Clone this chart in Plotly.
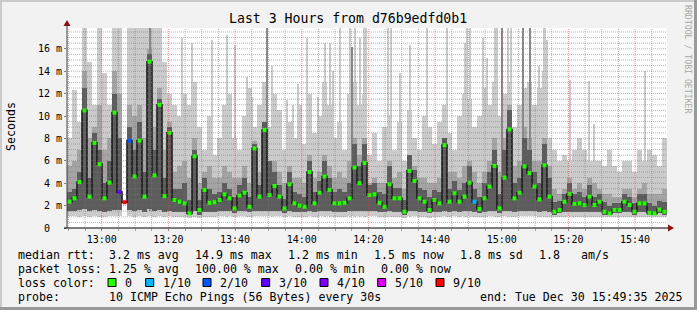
import numpy as np
import pandas as pd
import plotly.graph_objects as go

# ---------------- data ----------------
start_time = "2025-12-30 12:50:20"
n_steps = 120
step = "90s"
x_range = ["2025-12-30 12:49:35", "2025-12-30 15:49:35"]
day = "2025-12-30 "

median_ms = [
    2.35, 2.65, 4.1, 10.5, 2.8, 7.6, 5.7, 2.65, 4.05, 10.3,
    3.2, 2.3, 7.8, 4.6, 7.8, 2.8, 14.85, 4.7, 11.0, 2.85,
    8.5, 2.5, 2.35, 2.2, 1.3, 6.4, 1.6, 3.4, 2.25, 2.3,
    2.5, 3.0, 2.65, 1.75, 2.9, 3.15, 1.9, 7.1, 2.8, 8.75,
    2.95, 3.75, 2.8, 1.75, 3.9, 2.2, 2.0, 1.9, 5.0, 2.2,
    3.15, 4.6, 3.4, 2.2, 2.2, 2.25, 2.65, 5.4, 4.0, 5.8,
    2.95, 3.0, 2.25, 1.9, 3.9, 2.65, 2.65, 1.45, 5.1, 4.2,
    2.65, 2.35, 1.6, 2.5, 2.2, 7.4, 2.35, 3.1, 2.35, 2.8,
    4.05, 2.35, 1.7, 2.65, 3.7, 5.55, 1.75, 4.5, 8.8, 2.65,
    3.15, 5.5, 4.9, 3.7, 2.55, 5.6, 2.8, 1.45, 1.6, 2.35,
    3.05, 2.15, 2.2, 2.05, 2.8, 2.05, 2.35, 1.45, 1.3, 1.6,
    1.6, 2.35, 2.05, 1.45, 2.2, 2.2, 1.35, 1.3, 1.65, 1.45,
]
loss_tenths = [0] * 10 + [3, 9, 2] + [0] * 68 + [1] + [0] * 38

smoke_hi = [
    8.0, 12.3, 9.5, 17.9, 14.8, 11.0, 17.9, 13.8, 11.0, 17.9,
    17.9, None, 17.9, 17.9, 17.9, 17.9, 17.9, 17.9, 17.9, 14.8,
    12.0, 11.0, 10.0, 12.0, 11.0, 13.0, 9.0, 7.0, 10.0, 6.5,
    8.0, 11.0, 12.0, 8.0, 7.0, 10.0, 12.5, 9.0, 11.0, 13.0,
    9.0, 12.0, 10.5, 7.0, 9.5, 8.0, 11.0, 7.5, 12.0, 8.5,
    10.0, 13.0, 11.0, 8.0, 9.5, 7.0, 12.0, 13.0, 11.0, 12.0,
    6.5, 8.5, 6.0, 9.0, 10.0, 7.0, 9.5, 6.0, 10.5, 8.0,
    7.0, 10.0, 9.0, 7.5, 9.5, 11.0, 8.5, 7.0, 10.0, 12.0,
    11.5, 9.0, 10.0, 12.5, 11.0, 13.0, 10.0, 12.0, 13.0, 9.0,
    11.0, 12.5, 13.0, 11.0, 12.5, 14.0, 8.0, 7.0, 6.0, 6.5,
    6.0, 7.0, 8.0, 7.0, 6.0, 6.0, 6.0, 5.5, 7.0, 5.5,
    5.0, 6.0, 6.0, 5.0, 7.0, 6.0, 7.0, 6.5, 5.5, 8.0,
]
smoke_mid = [
    5.5, 6.0, 7.0, 14.0, 8.0, 9.0, 11.0, 7.0, 8.0, 14.0,
    12.0, None, 11.0, 10.0, 11.0, 8.0, 16.0, 9.0, 12.5, 7.0,
    9.5, 5.0, 5.5, 6.0, 4.5, 8.0, 4.0, 5.0, 5.5, 4.5,
    4.5, 5.5, 5.0, 4.5, 4.5, 5.5, 4.0, 7.8, 5.0, 9.5,
    6.0, 6.0, 5.0, 4.0, 5.5, 4.5, 4.5, 4.0, 6.5, 4.5,
    5.0, 6.5, 5.5, 4.5, 5.0, 4.5, 6.0, 8.0, 6.5, 8.0,
    4.0, 4.5, 4.0, 4.0, 6.0, 4.5, 5.0, 3.5, 6.5, 5.5,
    4.5, 4.5, 4.0, 4.0, 4.5, 8.0, 5.0, 5.0, 4.5, 5.5,
    6.0, 5.0, 4.0, 5.0, 6.0, 8.0, 5.0, 8.0, 11.0, 5.5,
    6.0, 9.0, 8.0, 6.0, 6.0, 8.0, 5.5, 3.5, 3.0, 3.5,
    4.5, 3.5, 4.0, 3.5, 4.5, 4.0, 3.5, 3.0, 3.0, 2.8,
    2.8, 3.5, 3.5, 2.8, 3.5, 4.0, 3.0, 3.0, 3.0, 3.5,
]
smoke_dark = [
    3.2, 3.5, 5.0, 12.5, 4.5, 8.5, 7.0, 4.0, 6.0, 12.0,
    8.0, None, 9.0, 7.0, 9.5, 5.0, 15.5, 7.0, 11.5, 4.5,
    9.0, 3.5, 3.5, 4.0, 2.5, 7.0, 2.5, 4.5, 3.5, 3.0,
    3.2, 4.0, 3.5, 2.8, 3.8, 4.5, 2.8, 7.5, 3.8, 9.5,
    6.0, 5.0, 3.8, 2.6, 5.0, 3.2, 3.0, 2.8, 6.0, 3.2,
    4.2, 6.0, 4.5, 3.2, 3.5, 3.2, 4.0, 7.5, 5.5, 7.5,
    3.8, 4.0, 3.2, 3.0, 5.5, 3.6, 3.6, 2.5, 6.5, 5.2,
    3.6, 3.4, 2.8, 3.4, 3.2, 8.0, 3.5, 4.2, 3.4, 4.0,
    5.5, 3.5, 2.8, 4.0, 5.0, 7.0, 3.0, 7.0, 10.5, 4.0,
    4.5, 8.0, 7.0, 5.0, 4.0, 7.5, 4.5, 2.3, 2.4, 3.0,
    4.0, 3.0, 3.2, 2.8, 3.8, 2.8, 3.0, 2.3, 2.0, 2.2,
    2.2, 3.0, 2.8, 2.2, 3.0, 3.0, 2.2, 2.0, 2.4, 2.3,
]
smoke_lo = [
    1.1, 1.1, 1.0, 1.1, 1.0, 1.1, 1.0, 1.0, 1.1, 1.1,
    1.1, None, 1.1, 1.0, 1.1, 1.0, 1.1, 1.0, 1.1, 1.0,
    1.1, 1.0, 1.0, 1.0, 0.9, 1.0, 0.9, 1.0, 1.0, 1.0,
    1.1, 1.1, 1.1, 1.0, 1.1, 1.1, 1.0, 1.1, 1.1, 1.1,
    1.1, 1.1, 1.1, 1.0, 1.1, 1.0, 1.0, 1.0, 1.1, 1.0,
    1.1, 1.1, 1.1, 1.0, 1.0, 1.0, 1.1, 1.1, 1.1, 1.1,
    1.1, 1.1, 1.0, 1.0, 1.1, 1.0, 1.0, 0.9, 1.1, 1.1,
    1.0, 1.0, 0.9, 1.0, 1.0, 1.1, 1.0, 1.1, 1.0, 1.1,
    1.1, 1.0, 1.0, 1.0, 1.1, 1.1, 1.0, 1.1, 1.1, 1.0,
    1.1, 1.1, 1.1, 1.1, 1.0, 1.1, 1.0, 1.0, 1.0, 1.0,
    1.1, 1.0, 1.0, 1.0, 1.0, 1.0, 1.0, 1.0, 1.0, 1.0,
    1.0, 1.0, 1.0, 1.0, 1.0, 1.0, 1.0, 1.0, 1.0, 1.0,
]
smoke_lo2 = [
    1.5, 1.5, 1.6, 1.7, 1.5, 1.6, 1.5, 1.4, 1.5, 1.6,
    1.6, None, 1.6, 1.5, 1.6, 1.4, 1.7, 1.5, 1.6, 1.4,
    1.5, 1.4, 1.4, 1.4, 1.15, 1.5, 1.2, 1.4, 1.4, 1.4,
    1.5, 1.5, 1.5, 1.3, 1.5, 1.5, 1.4, 1.5, 1.5, 1.5,
    1.5, 1.5, 1.5, 1.3, 1.5, 1.4, 1.4, 1.4, 1.5, 1.4,
    1.5, 1.5, 1.5, 1.4, 1.4, 1.4, 1.5, 1.5, 1.5, 1.5,
    1.5, 1.5, 1.4, 1.4, 1.5, 1.4, 1.4, 1.2, 1.5, 1.5,
    1.4, 1.4, 1.3, 1.4, 1.4, 1.5, 1.4, 1.5, 1.4, 1.5,
    1.5, 1.4, 1.3, 1.4, 1.5, 1.5, 1.3, 1.5, 1.5, 1.4,
    1.5, 1.5, 1.5, 1.5, 1.4, 1.5, 1.4, 1.2, 1.3, 1.4,
    1.4, 1.4, 1.4, 1.4, 1.4, 1.4, 1.4, 1.2, 1.15, 1.3,
    1.3, 1.4, 1.4, 1.2, 1.4, 1.4, 1.2, 1.15, 1.3, 1.2,
]

# thin single-step smoke peaks (time, top in ms)
light_peak_time = [
    "13:24:05", "13:27:05", "13:33:05", "13:37:35", "13:40:00", "13:43:35", "13:45:05",
    "13:51:05", "13:55:35", "13:57:23", "13:58:53", "14:01:35", "14:04:53", "14:06:59",
    "14:08:29", "14:09:23", "14:11:29", "14:14:29", "14:15:59", "14:17:29", "14:18:41",
    "14:19:17", "14:25:53", "14:26:47", "14:29:29", "14:32:29", "14:37:35", "14:43:35",
    "14:48:59", "14:49:35", "14:50:29", "14:54:23", "14:55:35", "14:57:59", "14:58:35",
    "15:01:53", "15:02:47", "15:11:11", "15:12:41", "15:13:08", "15:13:35", "15:20:29",
    "15:26:11", "15:27:41", "15:42:59",
]
light_peak_ms = [
    17.0, 16.5, 16.8, 17.2, 16.3, 13.5, 11.7,
    14.5, 11.4, 11.0, 12.9, 17.0, 11.7, 16.5,
    16.5, 14.0, 17.9, 17.9, 17.9, 17.0, 17.9,
    17.9, 17.9, 17.9, 13.8, 16.3, 17.9, 17.9,
    16.5, 17.9, 17.9, 17.0, 15.2, 17.9, 17.9,
    17.9, 17.9, 14.5, 17.9, 17.9, 16.8, 13.2,
    13.1, 9.3, 14.0,
]
dark_peak_time = ["13:14:29", "13:49:35", "14:15:05", "15:00:05", "15:06:32", "15:08:29"]
dark_peak_ms = [17.9, 17.9, 16.2, 17.9, 17.9, 17.9]

y_tick_vals = [0, 2, 4, 6, 8, 10, 12, 14, 16]
y_tick_text = ["0\u00a0\u00a0", "2 m", "4 m", "6 m", "8 m", "10 m", "12 m", "14 m", "16 m"]
y_max = 17.857

loss_labels = ["0", "1/10", "2/10", "3/10", "4/10", "5/10", "9/10"]
loss_keys = [0, 1, 2, 3, 4, 5, 9]
loss_colors = ["#26ff00", "#00b8ff", "#0059ff", "#5e00ff", "#7e00ff", "#dd00ff", "#ff0000"]

title_text = "Last 3 Hours from d76b9edfd0b1"
legend_rows = [
    [("median rtt:", 16), ("3.2 ms avg", 107), ("14.9 ms max", 192.7), ("1.2 ms min", 285.5),
     ("1.5 ms now", 372), ("1.8 ms sd", 458.3), ("1.8", 536.7), ("am/s", 579.3)],
    [("packet loss:", 16), ("1.25 % avg", 107), ("100.00 % max", 192.7), ("0.00 % min", 292.5),
     ("0.00 % now", 378.5)],
    [("loss color:", 16)],
    [("probe:", 16), ("10 ICMP Echo Pings (56 Bytes) every 30s", 107.3),
     ("end: Tue Dec 30 15:49:35 2025", 478.3)],
]
legend_row_y = [255, 268.5, 282.5, 296.5]
loss_box_x = [108, 145.7, 203, 261.7, 320, 377.7, 436]

# ---------------- figure ----------------
W, H = 697, 310
L, R, T, B = 67, 30, 28, 82
PW, PH = W - L - R, H - T - B
MONO = "DejaVu Sans Mono"


def px(x):
    return (x - L) / PW


def py(y):
    return (H - B - y) / PH


times = pd.date_range(start_time, periods=n_steps, freq=step)
med = np.array(median_ms, dtype=float)
hi = np.array(smoke_hi, dtype=float)
mid = np.array(smoke_mid, dtype=float)
dk = np.array(smoke_dark, dtype=float)
lo = np.array(smoke_lo, dtype=float)
lo2 = np.array(smoke_lo2, dtype=float)
color_map = dict(zip(loss_keys, loss_colors))
marker_cols = [color_map[k] for k in loss_tenths]

LIGHT, MID, DARKP, DARK = "#cbcbcb", "#a4a4a4", "#8a8a8a", "#5c5c5c"
peak_base = 1.0
dark_peak_base = 1.5

fig = go.Figure()
bar_w = pd.Timedelta(step).total_seconds() * 1000
peak_w = 33000


def add_bars(x, top, bot, col, width):
    fig.add_trace(go.Bar(x=x, y=np.asarray(top, dtype=float) - np.asarray(bot, dtype=float), base=bot,
                         width=width, marker=dict(color=col, line=dict(width=0)),
                         showlegend=False, hoverinfo="skip"))


add_bars(times, hi, lo, LIGHT, bar_w)
lp_t = pd.to_datetime([day + t for t in light_peak_time])
add_bars(lp_t, light_peak_ms, [peak_base] * len(lp_t), LIGHT, peak_w)
add_bars(times, mid, lo2, MID, bar_w)
dp_t = pd.to_datetime([day + t for t in dark_peak_time])
add_bars(dp_t, dark_peak_ms, [dark_peak_base] * len(dp_t), DARKP, peak_w)
add_bars(times, dk, lo2, DARK, bar_w)

fig.add_trace(go.Scatter(x=times, y=med, mode="lines+markers",
                         line=dict(color="#1c1c1c", width=1.6, shape="hvh"),
                         marker=dict(color=marker_cols, size=4, symbol="square", line=dict(width=0)),
                         showlegend=False, hoverinfo="skip"))

shapes = []
# grid (rrdtool draws it above the graph)
grid_minor = "rgba(120,120,120,0.55)"
grid_major = "rgba(235,60,60,0.55)"
for t in pd.date_range("2025-12-30 12:50:00", "2025-12-30 15:45:00", freq="5min"):
    major = t.minute % 20 == 0
    shapes.append(dict(type="line", xref="x", yref="paper", x0=t, x1=t, y0=0, y1=1, layer="above",
                       line=dict(color=grid_major if major else grid_minor, width=1, dash="1px,1px")))
for v in np.arange(0.5, 17.6, 0.5):
    major = abs(v % 2) < 1e-9
    shapes.append(dict(type="line", xref="paper", yref="y", x0=0, x1=1, y0=v, y1=v, layer="above",
                       line=dict(color=grid_major if major else grid_minor, width=1, dash="1px,1px")))
# axis lines + arrows
shapes.append(dict(type="line", xref="paper", yref="paper", x0=px(67), x1=px(67), y0=py(228), y1=py(24),
                   line=dict(color="#404040", width=1), layer="above"))
shapes.append(dict(type="path", xref="paper", yref="paper", fillcolor="#8b1010", line=dict(width=0),
                   path=f"M {px(63.5)},{py(26)} L {px(67)},{py(20)} L {px(70.5)},{py(26)} Z", layer="above"))
shapes.append(dict(type="line", xref="paper", yref="paper", x0=px(64), x1=px(669), y0=py(228), y1=py(228),
                   line=dict(color="#000000", width=1), layer="above"))
shapes.append(dict(type="path", xref="paper", yref="paper", fillcolor="#8b1010", line=dict(width=0),
                   path=f"M {px(668)},{py(224.5)} L {px(674)},{py(228)} L {px(668)},{py(231.5)} Z", layer="above"))
# frame
shapes.append(dict(type="rect", xref="paper", yref="paper", x0=px(0), x1=px(W), y0=py(0), y1=py(2),
                   fillcolor="#cbcbcb", line=dict(width=0)))
shapes.append(dict(type="rect", xref="paper", yref="paper", x0=px(0), x1=px(2), y0=py(0), y1=py(H),
                   fillcolor="#cbcbcb", line=dict(width=0)))
shapes.append(dict(type="rect", xref="paper", yref="paper", x0=px(0), x1=px(W), y0=py(H - 3), y1=py(H),
                   fillcolor="#999999", line=dict(width=0)))
shapes.append(dict(type="rect", xref="paper", yref="paper", x0=px(W - 3), x1=px(W), y0=py(0), y1=py(H),
                   fillcolor="#999999", line=dict(width=0)))
# loss colour boxes
for bx, col in zip(loss_box_x, loss_colors):
    shapes.append(dict(type="rect", xref="paper", yref="paper", x0=px(bx), x1=px(bx + 8),
                       y0=py(286.5), y1=py(278.5), fillcolor=col, line=dict(color="#000000", width=1)))

annotations = []
for row, yy in zip(legend_rows, legend_row_y):
    for txt, xx in row:
        annotations.append(dict(text=txt, x=px(xx), y=py(yy), xref="paper", yref="paper",
                                xanchor="left", yanchor="middle", showarrow=False,
                                font=dict(family=MONO, size=11.6, color="#000000")))
for bx, lab in zip(loss_box_x, loss_labels):
    annotations.append(dict(text=lab, x=px(bx + 15), y=py(282.5), xref="paper", yref="paper",
                            xanchor="left", yanchor="middle", showarrow=False,
                            font=dict(family=MONO, size=11.6, color="#000000")))
annotations.append(dict(text="Seconds", x=px(11), y=py(127), xref="paper", yref="paper",
                        xanchor="center", yanchor="middle", textangle=-90, showarrow=False,
                        font=dict(family=MONO, size=11.6, color="#000000")))
annotations.append(dict(text="RRDTOOL / TOBI OETIKER", x=px(688), y=py(59), xref="paper", yref="paper",
                        xanchor="center", yanchor="middle", textangle=90, showarrow=False,
                        font=dict(family=MONO, size=8.2, color="#a8a8a8")))
annotations.append(dict(text=title_text, x=px(348), y=py(18.5), xref="paper", yref="paper",
                        xanchor="center", yanchor="middle", showarrow=False,
                        font=dict(family=MONO, size=13.2, color="#000000")))

fig.update_layout(
    width=W, height=H, margin=dict(l=L, r=R, t=T, b=B, pad=0),
    paper_bgcolor="#f2f2f2", plot_bgcolor="#ffffff",
    barmode="overlay", bargap=0, showlegend=False,
    shapes=shapes, annotations=annotations,
    xaxis=dict(type="date", range=x_range, tick0="2025-12-30 13:00:00", dtick=20 * 60 * 1000,
               tickformat="%H:%M", showgrid=False, zeroline=False, showline=False,
               ticks="outside", ticklen=2, tickcolor="#808080",
               minor=dict(dtick=5 * 60 * 1000, ticks="outside", ticklen=2, tickcolor="#a0a0a0", showgrid=False),
               tickfont=dict(family=MONO, size=10, color="#000000"), fixedrange=True),
    yaxis=dict(range=[0, y_max], tickvals=y_tick_vals, ticktext=y_tick_text,
               showgrid=False, zeroline=False, showline=False,
               ticks="outside", ticklen=2, tickcolor="#808080",
               tickfont=dict(family=MONO, size=10, color="#000000"), fixedrange=True),
)

fig.write_html("out.html")
